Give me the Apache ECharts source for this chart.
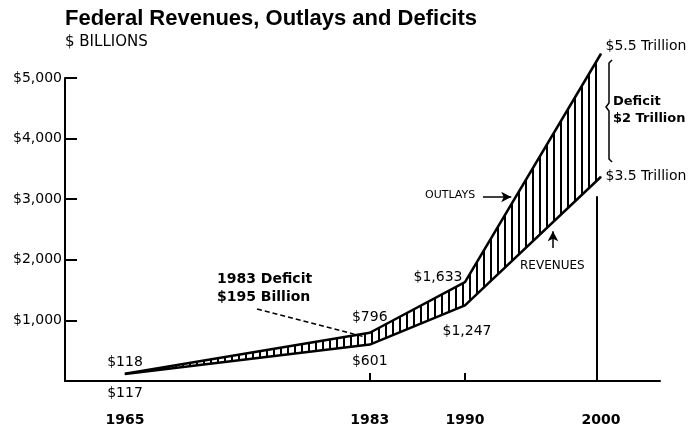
<!DOCTYPE html>
<html>
<head>
<meta charset="utf-8">
<script src="https://cdn.jsdelivr.net/npm/echarts@6/dist/echarts.min.js"></script>
<style>html,body{margin:0;padding:0;background:#fff}#c{width:694px;height:432px}</style>
</head>
<body>
<div id="c"></div>
<script>
// ---- data ----
const years = [1965, 1983, 1990, 2000];
const outlays = [118, 796, 1633, 5400];
const revenues = [117, 601, 1247, 3370];
const outlayLabels = ['$118', '$796', '$1,633', '$5.5 Trillion'];
const revenueLabels = ['$117', '$601', '$1,247', '$3.5 Trillion'];
const xTickLabels = [1965, 1983, 1990, 2000];
const xTicks = [1983, 1990];

// ---- styling helpers ----
const FONT = 'DejaVu Sans';
const outlayLabelPos = [
  {position: 'top', distance: 4},
  {position: 'top', distance: 8},
  {position: 'left', distance: 2, offset: [0, -5]},
  {position: 'right', distance: 4, offset: [0, -7]}
];
const revenueLabelPos = [
  {position: 'bottom', distance: 12},
  {position: 'bottom', distance: 9},
  {position: 'bottom', distance: 18, offset: [2, 0]},
  {position: 'right', distance: 4}
];

const hatch = document.createElement('canvas');
hatch.width = 7; hatch.height = 10;
const hc = hatch.getContext('2d');
hc.fillStyle = '#fff'; hc.fillRect(0, 0, 7, 10);
hc.fillStyle = '#000'; hc.fillRect(0, 0, 2, 10);

const lbl = (pos) => Object.assign({show: true, color: '#000', fontFamily: FONT, fontSize: 14, lineHeight: 14}, pos);

const outData = years.map((y, i) => ({value: [y, outlays[i]], label: lbl(outlayLabelPos[i])}));
const revData = years.map((y, i) => ({value: [y, revenues[i]], label: lbl(revenueLabelPos[i])}));

const ml = (a, b, style, endSym) => [
  {coord: a, symbol: 'none', lineStyle: style},
  {coord: b, symbol: endSym || 'none', symbolSize: [8, 10], lineStyle: style}
];

const chart = echarts.init(document.getElementById('c'), null, {renderer: 'canvas'});
chart.setOption({
  animation: false,
  backgroundColor: '#fff',
  grid: {left: 65, right: 34, top: 78, bottom: 51, containLabel: false},
  xAxis: {
    type: 'value', min: 1960.59, max: 2004.34, z: 10,
    splitLine: {show: false},
    axisLine: {lineStyle: {color: '#000', width: 2}},
    axisTick: {show: true, inside: true, length: 8, customValues: xTicks, lineStyle: {color: '#000', width: 2}},
    axisLabel: {customValues: xTickLabels, margin: 32, color: '#000', fontFamily: FONT, fontWeight: 'bold', fontSize: 14, formatter: v => String(v)}
  },
  yAxis: {
    type: 'value', min: 0, max: 5000, interval: 1000, z: 10,
    splitLine: {show: false},
    axisLine: {show: true, lineStyle: {color: '#000', width: 2}},
    axisTick: {show: true, inside: true, length: 12, lineStyle: {color: '#000', width: 2}},
    axisLabel: {margin: 3, color: '#000', fontFamily: FONT, fontSize: 14,
      formatter: v => v === 0 ? '' : '$' + v.toLocaleString('en-US')}
  },
  series: [
    {
      name: 'Outlays', type: 'line', clip: false, symbol: 'circle', symbolSize: 1, showSymbol: true,
      itemStyle: {color: '#000'},
      lineStyle: {color: '#000', width: 2.5},
      areaStyle: {color: {image: hatch, repeat: 'repeat'}, opacity: 1},
      label: {show: true, formatter: p => outlayLabels[p.dataIndex]},
      data: outData,
      z: 3
    },
    {
      name: 'Revenues', type: 'line', clip: false, symbol: 'circle', symbolSize: 1, showSymbol: true,
      itemStyle: {color: '#000'},
      lineStyle: {color: '#000', width: 2.5},
      areaStyle: {color: '#fff', opacity: 1},
      label: {show: true, formatter: p => revenueLabels[p.dataIndex]},
      data: revData,
      z: 4,
      markLine: {
        silent: true, symbol: 'none', label: {show: false},
        data: [
          ml([1974.71, 1188], [1982.65, 726], {color: '#000', width: 1.5, type: [5, 3]}),
          ml([1999.7, 3050], [1999.7, 0], {color: '#000', width: 2, type: 'solid'}),
          ml([1991.32, 3036], [1993.4, 3036], {color: '#000', width: 1.5, type: 'solid'}, 'arrow'),
          ml([1996.47, 2195], [1996.47, 2470], {color: '#000', width: 1.5, type: 'solid'}, 'arrow')
        ]
      }
    }
  ],
  graphic: [
    {type: 'text', z: 100, left: 65, top: 8, style: {text: 'Federal Revenues, Outlays and Deficits', fill: '#000', font: 'bold 22px "Liberation Sans"'}},
    {type: 'text', z: 100, left: 65, top: 35, style: {text: '$ BILLIONS', fill: '#000', font: '15px "DejaVu Sans"'}},
    {type: 'text', z: 100, left: 217, top: 272, style: {text: '1983 Deficit', fill: '#000', font: 'bold 14px "DejaVu Sans"'}},
    {type: 'text', z: 100, left: 217, top: 290, style: {text: '$195 Billion', fill: '#000', font: 'bold 14px "DejaVu Sans"'}},
    {type: 'text', z: 100, left: 613, top: 95, style: {text: 'Deficit', fill: '#000', font: 'bold 13px "DejaVu Sans"'}},
    {type: 'text', z: 100, left: 613, top: 112, style: {text: '$2 Trillion', fill: '#000', font: 'bold 13px "DejaVu Sans"'}},
    {type: 'text', z: 100, left: 425, top: 190, style: {text: 'OUTLAYS', fill: '#000', font: '11px "DejaVu Sans"'}},
    {type: 'text', z: 100, left: 520, top: 260, style: {text: 'REVENUES', fill: '#000', font: '12px "DejaVu Sans"'}},
    {type: 'polyline', z: 100, shape: {points: [[612, 60], [609, 63], [609, 103], [606, 107], [609, 111], [609, 159], [612, 162]]},
     style: {stroke: '#000', lineWidth: 1.5, fill: null}}
  ]
});
</script>
</body>
</html>
